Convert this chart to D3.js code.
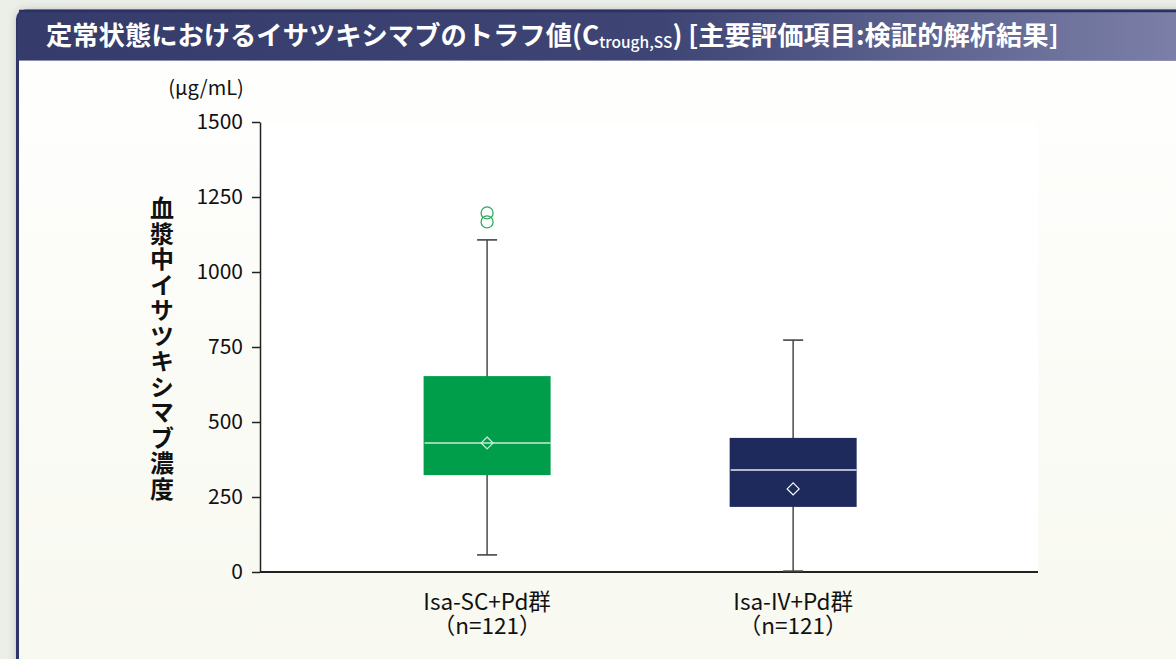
<!DOCTYPE html>
<html>
<head>
<meta charset="utf-8">
<script src="https://cdn.jsdelivr.net/npm/d3@7/dist/d3.min.js"></script>
<style>
  html, body { margin: 0; padding: 0; background: #eceee8; }
  svg { display: block; }
  text { font-family: "Noto Sans CJK JP", "Noto Sans", sans-serif; }
</style>
</head>
<body>
<svg id="chart" width="1176" height="659"></svg>
<script>
// Trough concentration at steady state, per treatment group
const groups = ["Isa-SC+Pd群", "Isa-IV+Pd群"];
const groupN = ["（n=121）", "（n=121）"];
const groupPos = [1, 2];
const q1 = [323, 217];
const median = [430, 340];
const q3 = [653, 447];
const mean = [430, 277];
const whiskerLow = [57, 3];
const whiskerHigh = [1107, 773];
const outliers = [[1197, 1167], []];
const boxColors = ["#009e4b", "#1e2a5c"];
const yTicks = [0, 250, 500, 750, 1000, 1250, 1500];

const svg = d3.select("#chart");
const defs = svg.append("defs");

// panel background and header gradients
const hg = defs.append("linearGradient").attr("id", "hdr").attr("x1", 0).attr("x2", 1);
hg.append("stop").attr("offset", 0).attr("stop-color", "#353c6b");
hg.append("stop").attr("offset", 0.55).attr("stop-color", "#3e4574");
hg.append("stop").attr("offset", 1).attr("stop-color", "#7c80a8");
const bg = defs.append("linearGradient").attr("id", "pbg").attr("x1", 0).attr("x2", 0).attr("y1", 0).attr("y2", 1);
bg.append("stop").attr("offset", 0).attr("stop-color", "#ffffff");
bg.append("stop").attr("offset", 1).attr("stop-color", "#f7f8ee");
const sh = defs.append("filter").attr("id", "shadow").attr("x", -0.05).attr("y", -0.05).attr("width", 1.1).attr("height", 1.1);
sh.append("feDropShadow").attr("dx", 0).attr("dy", 0).attr("stdDeviation", 4).attr("flood-color", "#000").attr("flood-opacity", 0.18);

// panel
svg.append("rect").attr("x", 17.5).attr("y", 11).attr("width", 1200).attr("height", 700)
  .attr("rx", 8).attr("fill", "url(#pbg)").attr("stroke", "#2e3668").attr("stroke-width", 3)
  .attr("filter", "url(#shadow)");
svg.append("path")
  .attr("d", "M17.5,60 L17.5,19 Q17.5,11 25.5,11 L1180,11 L1180,60 Z")
  .attr("fill", "url(#hdr)");
svg.append("line").attr("x1", 19).attr("x2", 1176).attr("y1", 11).attr("y2", 11)
  .attr("stroke", "#2a3163").attr("stroke-width", 2.5);
svg.append("line").attr("x1", 19).attr("x2", 1176).attr("y1", 60.5).attr("y2", 60.5)
  .attr("stroke", "#8a8fb0").attr("stroke-width", 1);

// header title
const title = svg.append("text").attr("x", 46).attr("y", 45)
  .attr("fill", "#fff").attr("font-size", 26.3).attr("font-weight", 700);
title.append("tspan").text("定常状態におけるイサツキシマブのトラフ値(C");
title.append("tspan").attr("font-size", 15.5).attr("font-weight", 500).attr("dy", 3).text("trough,SS");
title.append("tspan").attr("dy", -3).text(") [主要評価項目:検証的解析結果]");

// plot area
const plot = { left: 260, right: 1038, top: 122, bottom: 572 };
const y = d3.scaleLinear().domain([0, 1500]).range([plot.bottom, plot.top]);
const x = d3.scaleLinear().domain([0.258, 2.8]).range([plot.left, plot.right]);
const boxW = 127;
const capW = 20;

svg.append("rect").attr("x", plot.left).attr("y", plot.top)
  .attr("width", plot.right - plot.left).attr("height", plot.bottom - plot.top)
  .attr("fill", "#ffffff");

// y axis
const yAxis = svg.append("g").attr("transform", `translate(${plot.left},0)`)
  .call(d3.axisLeft(y).tickValues(yTicks).tickFormat(d3.format("d"))
    .tickSize(8).tickPadding(9).tickSizeOuter(0));
yAxis.select(".domain").attr("stroke", "#222").attr("stroke-width", 1.5);
yAxis.selectAll(".tick line").attr("stroke", "#222").attr("stroke-width", 1.5);
yAxis.selectAll(".tick text").attr("font-size", 21).attr("fill", "#111")
  .attr("font-family", "'Noto Sans', sans-serif");

// x baseline
svg.append("line").attr("x1", plot.left).attr("x2", plot.right)
  .attr("y1", plot.bottom).attr("y2", plot.bottom)
  .attr("stroke", "#222").attr("stroke-width", 2);

// unit label
svg.append("text").attr("x", 206).attr("y", 95).attr("text-anchor", "middle")
  .attr("font-size", 20).attr("fill", "#111")
  .attr("font-family", "'Noto Sans', sans-serif").text("(μg/mL)");

// vertical axis title, set in upright vertical writing
svg.append("text")
  .attr("x", 162).attr("y", 196)
  .attr("writing-mode", "vertical-rl")
  .style("text-orientation", "upright")
  .attr("font-size", 24).attr("font-weight", 700)
  .attr("letter-spacing", 1.5)
  .attr("fill", "#111").text("血漿中イサツキシマブ濃度");

// boxes
const g = svg.append("g");
groups.forEach((name, i) => {
  const cx = x(groupPos[i]);
  // whisker stem
  g.append("line").attr("x1", cx).attr("x2", cx)
    .attr("y1", y(whiskerHigh[i])).attr("y2", y(whiskerLow[i]))
    .attr("stroke", "#555").attr("stroke-width", 1.6);
  [whiskerHigh[i], whiskerLow[i]].forEach(v => {
    g.append("line").attr("x1", cx - capW / 2).attr("x2", cx + capW / 2)
      .attr("y1", y(v)).attr("y2", y(v))
      .attr("stroke", "#444").attr("stroke-width", 1.6);
  });
  // box
  g.append("rect").attr("x", cx - boxW / 2).attr("y", y(q3[i]))
    .attr("width", boxW).attr("height", y(q1[i]) - y(q3[i]))
    .attr("fill", boxColors[i]);
  // median
  g.append("line").attr("x1", cx - boxW / 2 + 1).attr("x2", cx + boxW / 2)
    .attr("y1", y(median[i])).attr("y2", y(median[i]))
    .attr("stroke", i === 0 ? "#c9ead3" : "#e6e8f0").attr("stroke-width", 1.4);
  // mean marker
  const my = y(mean[i]);
  g.append("path")
    .attr("d", `M${cx},${my - 6} L${cx + 6},${my} L${cx},${my + 6} L${cx - 6},${my} Z`)
    .attr("fill", "none").attr("stroke", i === 0 ? "#cfeedd" : "#ffffff").attr("stroke-width", 1.2);
  // outliers
  outliers[i].forEach(v => {
    g.append("circle").attr("cx", cx).attr("cy", y(v)).attr("r", 6)
      .attr("fill", "none").attr("stroke", "#2daa5e").attr("stroke-width", 1.3);
  });
  // two-line category label
  const lbl = g.append("text").attr("text-anchor", "middle")
    .attr("font-size", 22.5).attr("fill", "#111");
  lbl.append("tspan").attr("x", cx).attr("y", 610).text(name);
  lbl.append("tspan").attr("x", cx).attr("y", 634).text(groupN[i]);
});
</script>
</body>
</html>
